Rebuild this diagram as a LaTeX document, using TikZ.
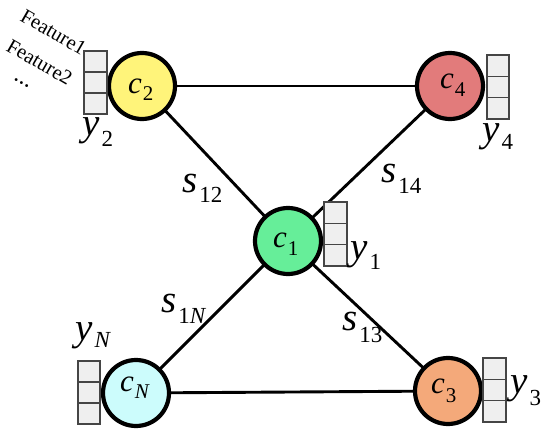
\documentclass[tikz,border=0pt]{standalone}
\usepackage{fontspec}
\setmainfont{Liberation Serif}
\usetikzlibrary{backgrounds}
\definecolor{cyel}{HTML}{FFF47A}
\definecolor{cred}{HTML}{E27B7B}
\definecolor{cgrn}{HTML}{66EE99}
\definecolor{ccyn}{HTML}{CCFCFC}
\definecolor{corg}{HTML}{F4A97A}
\definecolor{cellfill}{HTML}{EFEFEF}
\definecolor{cellline}{HTML}{454545}
\newcommand\biglab[3]{{\fontsize{39}{39}\selectfont\itshape #1}\kern2pt\raisebox{-#3pt}{\fontsize{23}{23}\selectfont #2}}
\newcommand\clab[3]{{\fontsize{31}{31}\selectfont\itshape #1}\kern1pt\raisebox{-#3pt}{\fontsize{21}{21}\selectfont #2}}
\begin{document}
\begin{tikzpicture}[x=1pt,y=-1pt,
  client/.style={circle,draw=black,line width=4.2pt,minimum size=66pt,inner sep=0pt},
  link/.style={line width=2.9pt,draw=black},
  cell/.style={draw=cellline,fill=cellfill,line width=1.1pt,inner sep=0pt},
  lab/.style={anchor=base west,inner sep=0pt},
  feat/.style={anchor=base west,inner sep=0pt,rotate=-30,font=\fontsize{20.5}{20.5}\selectfont}]
\useasboundingbox (0,0) rectangle (550,434);
\node[client,fill=cyel] (c2) at (142,86) {};
\node[client,fill=cred] (c4) at (450,86) {};
\node[client,fill=cgrn] (c1) at (288,241) {};
\node[client,fill=ccyn] (cN) at (136,393) {};
\node[client,fill=corg] (c3) at (448,391) {};
\begin{scope}[on background layer]
\draw[link] (c2.center) -- (c4.center);
\draw[link] (c2.center) -- (c1.center);
\draw[link] (c4.center) -- (c1.center);
\draw[link] (c1.center) -- (cN.center);
\draw[link] (c1.center) -- (c3.center);
\draw[link] (cN.center) -- (c3.center);
\end{scope}
\foreach \n/\xa/\ya/\xb/\yb in {b2/84/51/107/114, b4/487/55/509/119, b1/324/202/347/266, bN/78/361/100/424, b3/483/358/506/422}{
  \foreach \k in {0,1,2}{
    \node[cell,minimum width={(\xb-\xa)*1pt},minimum height={(\yb-\ya)/3*1pt}] (\n-\k) at ({(\xa+\xb)/2},{\ya+(\k+0.5)*(\yb-\ya)/3}) {};
  }
}
\node[lab] (l2) at (128,93) {\clab{c}{2}{7}};
\node[lab] (l4) at (440,88) {\clab{c}{4}{8}};
\node[lab] (l1) at (273,247) {\clab{c}{1}{8}};
\node[lab] (lN) at (120,391) {\clab{c}{\itshape N}{7}};
\node[lab] (l3) at (431,393) {\clab{c}{3}{9}};
\node[lab] (y2) at (82,135) {\biglab{y}{2}{11}};
\node[lab] (y4) at (482,141) {\biglab{y}{4}{8}};
\node[lab] (y1) at (350,259) {\biglab{y}{1}{10}};
\node[lab] (yN) at (75,340) {\biglab{y}{\itshape N}{7}};
\node[lab] (y3) at (510,393) {\biglab{y}{3}{12}};
\node[lab] (s12) at (182,192) {\biglab{s}{12}{10}};
\node[lab] (s14) at (381,182) {\biglab{s}{14}{11}};
\node[lab] (s1N) at (161,312) {\biglab{s}{1\itshape N}{11}};
\node[lab] (s13) at (342,330) {\biglab{s}{13}{12}};
\node[feat] (f1) at (19,20) {Feature1};
\node[feat] (f2) at (5,50) {Feature2};
\node[feat,font=\fontsize{24}{24}\selectfont] (f3) at (13,79) {...};
\end{tikzpicture}
\end{document}
